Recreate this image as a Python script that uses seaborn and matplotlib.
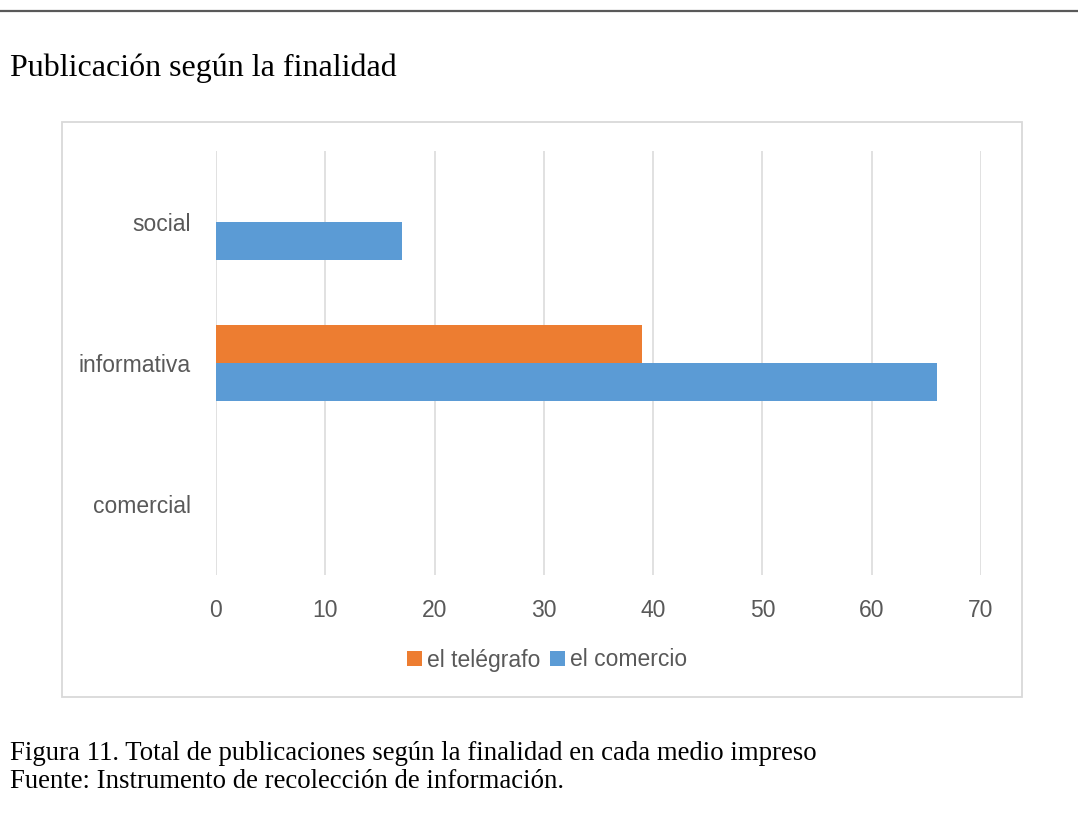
import matplotlib
matplotlib.use("Agg")
import matplotlib.pyplot as plt
import seaborn as sns
import pandas as pd
from matplotlib.patches import Rectangle, Patch
from matplotlib.lines import Line2D

categories = ["social", "informativa", "comercial"]
series = ["el telégrafo", "el comercio"]
telegrafo = [0, 39, 0]
comercio = [17, 66, 0]
xticks = [0, 10, 20, 30, 40, 50, 60, 70]

colors = {"el telégrafo": "#ED7D31", "el comercio": "#5B9BD5"}

rows = []
for c, t, m in zip(categories, telegrafo, comercio):
    rows.append({"cat": c, "serie": series[0], "val": t})
    rows.append({"cat": c, "serie": series[1], "val": m})
df = pd.DataFrame(rows)

sns.set_theme(style="white")
plt.rcParams["font.family"] = ["Liberation Sans", "DejaVu Sans"]

W, H = 1078, 825
fig = plt.figure(figsize=(W / 100, H / 100), dpi=100)
ax = fig.add_axes([216 / W, 1 - 575 / H, (981 - 216) / W, (575 - 151) / H])

sns.barplot(data=df, y="cat", x="val", hue="serie", order=categories,
            hue_order=series, palette=colors, width=0.54, orient="h",
            saturation=1, ax=ax, legend=False, linewidth=0)

ax.set_xlim(0, 70)
ax.set_xticks(xticks)
ax.set_xticklabels([str(v) for v in xticks])
ax.set_xlabel("")
ax.set_ylabel("")
for s in ax.spines.values():
    s.set_visible(False)
ax.xaxis.grid(True, color="#d9d9d9", linewidth=1.1)
ax.yaxis.grid(False)
ax.set_axisbelow(True)
ax.tick_params(axis="both", length=0, labelsize=16.5, colors="#595959")
ax.tick_params(axis="x", pad=17)
ax.tick_params(axis="y", pad=18)

handles = [Patch(facecolor=colors[s], edgecolor="none", label=s) for s in series]
leg = fig.legend(handles=handles, loc="center", bbox_to_anchor=(547 / W, 1 - 660 / H),
                 ncol=2, frameon=False, fontsize=16.5, handlelength=0.65,
                 handleheight=0.65, handletextpad=0.2, columnspacing=0.45)
for t in leg.get_texts():
    t.set_color("#595959")

# chart frame
fig.patches.append(Rectangle((62 / W, 1 - 697 / H), (1022 - 62) / W, (697 - 122) / H,
                             transform=fig.transFigure, fill=False,
                             edgecolor="#d9d9d9", linewidth=1.3))
# top rule
fig.add_artist(Line2D([0, 1], [1 - 11 / H, 1 - 11 / H], transform=fig.transFigure,
                      color="#595959", linewidth=1.6))

serif = ["Liberation Serif", "DejaVu Serif"]
fig.text(10 / W, 1 - 68 / H, "Publicación según la finalidad", family=serif,
         fontsize=23, va="center", ha="left", color="black")
fig.text(10 / W, 1 - 754 / H,
         "Figura 11. Total de publicaciones según la finalidad en cada medio impreso",
         family=serif, fontsize=19.3, va="center", ha="left", color="black")
fig.text(10 / W, 1 - 782 / H, "Fuente: Instrumento de recolección de información.",
         family=serif, fontsize=19.3, va="center", ha="left", color="black")

fig.savefig("out.png", dpi=100, facecolor="white")
